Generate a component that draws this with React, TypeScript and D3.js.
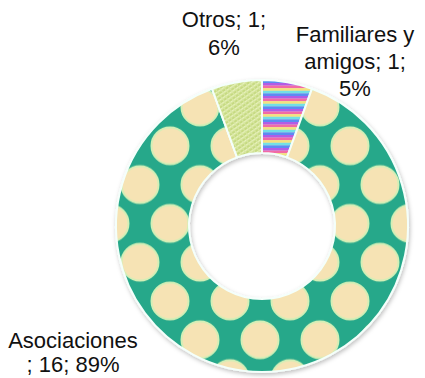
import React from 'react';
import * as d3 from 'd3';

const categories = ['Familiares y amigos', 'Asociaciones', 'Otros'];
const values = [1, 16, 1];
const percentLabels = ['5%', '89%', '6%'];
const labelLines = [
  ['Familiares y', 'amigos; 1;', '5%'],
  ['Asociaciones', '; 16; 89%'],
  ['Otros; 1;', '6%'],
];
const fills = ['url(#stripes)', 'url(#dots)', 'url(#lattice)'];
const stripeColors = ['#b25ce6', '#f26aa6', '#f4e27c', '#72e0e6', '#5b8cf2'];

const W = 425;
const H = 378;
const cx = 262;
const cy = 226;
const outerR = 146;
const innerR = 73;

// label positions (first line baseline) and line spacing
const labelPos: [number, number, number][] = [
  [355, 42, 27],
  [73, 348, 24],
  [224, 27, 28],
];

export default function App() {
  const pie = d3.pie<number>().sort(null).value((d) => d);
  const arcs = pie(values);
  const arc = d3.arc<d3.PieArcDatum<number>>().innerRadius(innerR).outerRadius(outerR);

  const dotW = 60;
  const dotH = 77.6;
  const stripeH = 2.6;

  return (
    <svg width={W} height={H} style={{ position: 'absolute', left: 0, top: 0, background: '#fff' }}>
      <defs>
        <pattern id="dots" patternUnits="userSpaceOnUse" x={140 - cx} y={107 - cy} width={dotW} height={dotH}>
          <rect width={dotW} height={dotH} fill="#27a88a" />
          {[
            [0, 0],
            [dotW, 0],
            [0, dotH],
            [dotW, dotH],
            [dotW / 2, dotH / 2],
          ].map(([x, y], i) => (
            <circle key={i} cx={x} cy={y} r={18.5} fill="#f6e3b4" stroke="#d3efb6" strokeWidth={2} />
          ))}
        </pattern>
        <pattern id="stripes" patternUnits="userSpaceOnUse" x={0} y={0} width={10} height={stripeH * stripeColors.length}>
          {stripeColors.map((c, i) => (
            <rect key={c} x={0} y={i * stripeH} width={10} height={stripeH} fill={c} />
          ))}
        </pattern>
        <pattern id="lattice" patternUnits="userSpaceOnUse" width={4} height={4} patternTransform="rotate(-35)">
          <rect width={4} height={4} fill="#c6da82" />
          <rect width={4} height={1.5} fill="#e8f2bd" />
          <rect width={1.1} height={4} fill="#d8e7a2" />
        </pattern>
        <filter id="shadow" x="-10%" y="-10%" width="120%" height="120%">
          <feDropShadow dx={1} dy={2} stdDeviation={2} floodColor="#000" floodOpacity={0.25} />
        </filter>
      </defs>
      <g transform={`translate(${cx},${cy})`} filter="url(#shadow)">
        {arcs.map((a, i) => (
          <path
            key={categories[i]}
            d={arc(a) || ''}
            fill={fills[i]}
            stroke="#f4fffb"
            strokeWidth={2}
            strokeLinejoin="round"
          />
        ))}
      </g>
      <g fontFamily="Arial, 'Liberation Sans', sans-serif" fontSize={22} fill="#111" textAnchor="middle">
        {labelLines.map((lines, i) => (
          <text key={categories[i]} x={labelPos[i][0]} y={labelPos[i][1]} data-pct={percentLabels[i]}>
            {lines.map((l, j) => (
              <tspan key={j} x={labelPos[i][0]} dy={j === 0 ? 0 : labelPos[i][2]}>
                {l}
              </tspan>
            ))}
          </text>
        ))}
      </g>
    </svg>
  );
}
